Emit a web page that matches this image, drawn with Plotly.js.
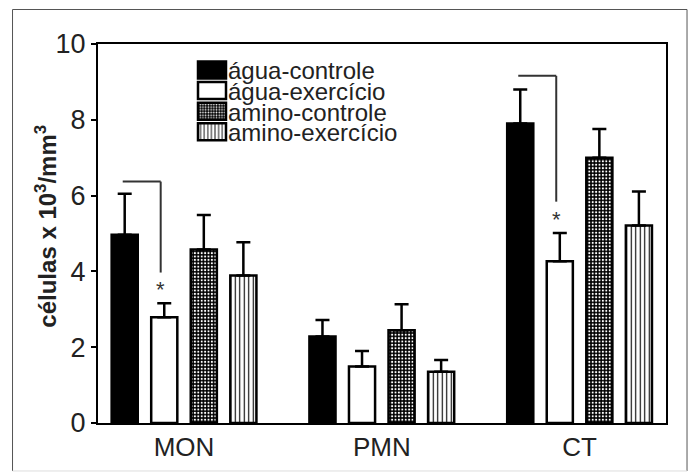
<!DOCTYPE html>
<html><head><meta charset="utf-8">
<script src="https://cdn.plot.ly/plotly-3.0.1.min.js"></script>
<style>html,body{margin:0;padding:0;background:#fff}#chart{width:694px;height:473px}</style>
</head><body><div id="chart"></div>
<script>
const categories = ['MON', 'PMN', 'CT'];
const seriesNames = ['água-controle', 'água-exercício', 'amino-controle', 'amino-exercício'];
const aguaControle = [4.97, 2.28, 7.90];
const aguaControleErr = [1.08, 0.44, 0.90];
const aguaExercicio = [2.79, 1.49, 4.27];
const aguaExercicioErr = [0.37, 0.41, 0.74];
const aminoControle = [4.58, 2.45, 7.00];
const aminoControleErr = [0.91, 0.68, 0.76];
const aminoExercicio = [3.89, 1.35, 5.21];
const aminoExercicioErr = [0.88, 0.31, 0.90];
const yTicks = [0, 2, 4, 6, 8, 10];
const yTitle = 'células x 10<sup>3</sup>/mm<sup>3</sup>';
// significance brackets (água-controle vs água-exercício)
const sigCategories = ['MON', 'CT'];
const sigTop = [6.37, 9.16];
const sigBottom = [3.97, 5.84];
const sigStar = [3.61, 5.44];

const FONT = 'Liberation Sans, Arial, sans-serif';
const values = [aguaControle, aguaExercicio, aminoControle, aminoExercicio];
const errs = [aguaControleErr, aguaExercicioErr, aminoControleErr, aminoExercicioErr];
const styles = [
  {color: '#000', pattern: {shape: ''}},
  {color: '#fff', pattern: {shape: ''}},
  {color: '#000', pattern: {shape: '.', fgcolor: '#fff', bgcolor: '#000', size: 3.4, solidity: 0.3, fillmode: 'replace'}},
  {color: '#fff', pattern: {shape: '|', fgcolor: '#000', bgcolor: '#fff', size: 4.5, solidity: 0.25, fillmode: 'replace'}}
];

const traces = seriesNames.map((name, i) => ({
  type: 'bar', name: name, x: categories, y: values[i],
  marker: {color: styles[i].color, pattern: styles[i].pattern, line: {color: '#000', width: 2.5}},
  error_y: {type: 'data', symmetric: false, array: errs[i], arrayminus: errs[i].map(() => 0),
            color: '#000', thickness: 2.5, width: 7},
  hoverinfo: 'skip'
}));

const shapes = [];
const annotations = [];
sigCategories.forEach((c, k) => {
  const idx = categories.indexOf(c);
  const xl = idx - 0.31, xr = idx - 0.118;
  shapes.push({type: 'line', xref: 'x', yref: 'y', x0: xl, x1: xr, y0: sigTop[k], y1: sigTop[k], line: {color: '#333', width: 2}});
  shapes.push({type: 'line', xref: 'x', yref: 'y', x0: xr, x1: xr, y0: sigTop[k], y1: sigBottom[k], line: {color: '#333', width: 2}});
  annotations.push({xref: 'x', yref: 'y', x: xr, y: sigStar[k], text: '*', showarrow: false,
    font: {family: FONT, size: 22, color: '#333'}, yanchor: 'middle', yshift: -3});
});
// y axis title
annotations.push({xref: 'paper', yref: 'paper', x: -0.092, y: 0.52, xanchor: 'center', yanchor: 'middle',
  text: '<b>' + yTitle + '</b>', textangle: -90, showarrow: false,
  font: {family: FONT, size: 24, color: '#222'}});
// outer frame
shapes.push({type: 'path', xref: 'paper', yref: 'paper', layer: 'below',
  path: 'M-0.1505,-0.1266 L-0.1505,1.0910 L1.0370,1.0910 L1.0370,-0.1266', line: {color: '#555', width: 1}});
shapes.push({type: 'line', xref: 'paper', yref: 'paper', layer: 'below',
  x0: -0.1505, x1: 1.0370, y0: -0.1266, y1: -0.1266, line: {color: '#ddd', width: 1}});

const layout = {
  width: 694, height: 473,
  margin: {l: 98, r: 28, t: 44, b: 50},
  paper_bgcolor: '#fff', plot_bgcolor: '#fff',
  font: {family: FONT, color: '#222'},
  barmode: 'group', bargap: 0.2, bargroupgap: 0.34,
  showlegend: true,
  legend: {x: 0.16, xanchor: 'left', y: 1, yanchor: 'top', bgcolor: 'rgba(0,0,0,0)',
           font: {family: FONT, size: 24, color: '#222'}, itemclick: false, itemdoubleclick: false},
  xaxis: {type: 'category', range: [-0.435, 2.437], showline: true, linecolor: '#000', linewidth: 2,
          mirror: true, ticks: '', showgrid: false, zeroline: false,
          tickfont: {family: FONT, size: 26, color: '#222'}, fixedrange: true},
  yaxis: {range: [0, 10], tickvals: yTicks, showline: true, linecolor: '#000', linewidth: 2, mirror: true,
          ticks: 'outside', ticklen: 5, tickwidth: 2, tickcolor: '#000', showgrid: false, zeroline: false,
          tickfont: {family: FONT, size: 27, color: '#222'}, fixedrange: true},
  shapes: shapes, annotations: annotations
};

Plotly.newPlot('chart', traces, layout, {displayModeBar: false, staticPlot: true}).then(gd => {
  const legend = gd.querySelector('.legend');
  if (!legend) return;
  const items = legend.querySelectorAll('.traces');
  const txt = items[0] && items[0].querySelector('.legendtext');
  const textX = txt ? parseFloat(txt.getAttribute('x')) || 40 : 40;
  legend.setAttribute('transform', 'translate(' + (228 - textX) + ',50)');
  items.forEach((g, i) => {
    g.setAttribute('transform', 'translate(0,' + (20 + i * 20.6) + ')');
    const p = g.querySelector('.legendpoints path');
    if (p) {
      const r = textX - 2, l = r - 28;
      p.setAttribute('d', 'M' + l + ',-8.5H' + r + 'V8.5H' + l + 'Z');
      p.removeAttribute('transform');
    }
  });
});
</script>
</body></html>
